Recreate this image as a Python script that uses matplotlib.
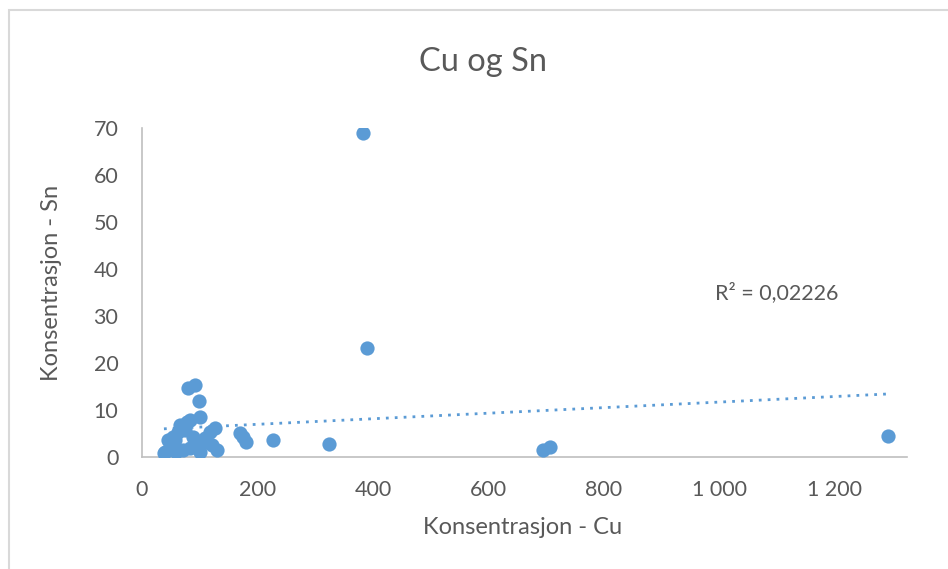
import numpy as np
import matplotlib
matplotlib.use("Agg")
import matplotlib.pyplot as plt
from matplotlib.patches import Rectangle
from matplotlib.ticker import FuncFormatter

plt.rcParams['font.family'] = ['Lato', 'DejaVu Sans']

# Cu / Sn konsentrasjoner
cu = [38, 40, 48, 57, 62, 66, 78, 83, 71, 83, 94, 109, 118, 126, 130, 100,
      99, 80, 92, 54, 88, 113, 74, 45, 59, 100, 121,
      170, 175, 180, 227, 324, 383, 389, 694, 707, 1292]
sn = [0.8, 1.0, 2.1, 3.6, 5.3, 6.8, 7.4, 7.8, 1.4, 1.9, 2.5, 4.0, 5.3, 6.1, 1.4, 8.5,
      11.9, 14.7, 15.3, 4.2, 4.2, 3.1, 5.7, 3.6, 1.0, 1.0, 2.5,
      5.1, 4.2, 3.1, 3.6, 2.7, 68.9, 23.1, 1.4, 2.1, 4.4]
r2_label = "R² = 0,02226"

text_col = '#595959'
dot_col = '#5B9BD5'
axis_col = '#BFBFBF'

fig = plt.figure(figsize=(9.48, 5.69), dpi=100)
fig.patches.append(Rectangle((8.5 / 948, -0.1), 2, 1.1 - 10.5 / 569,
                             transform=fig.transFigure, fill=False,
                             edgecolor='#D9D9D9', linewidth=1.5))

ax = fig.add_axes([142 / 948, 112.3 / 569, 765 / 948, 328.4 / 569])
ax.scatter(cu, sn, s=105, color=dot_col, zorder=3, linewidths=0)

# lineær trendlinje
k, m = np.polyfit(cu, sn, 1)
xs = np.array([min(cu), max(cu)])
ax.plot(xs, k * xs + m, linestyle=(0, (1, 2.2)), color=dot_col, linewidth=2, zorder=2)

ax.set_xlim(0, 1325)
ax.set_ylim(0, 70)
ax.set_xticks(range(0, 1201, 200))
ax.set_yticks(range(0, 71, 10))
ax.xaxis.set_major_formatter(FuncFormatter(lambda v, p: f"{int(v):,}".replace(",", " ")))

for s in ['top', 'right']:
    ax.spines[s].set_visible(False)
for s in ['left', 'bottom']:
    ax.spines[s].set_color(axis_col)
    ax.spines[s].set_linewidth(1.2)
ax.tick_params(length=0, labelsize=15.5, colors=text_col)
ax.tick_params(axis='x', pad=17)
ax.tick_params(axis='y', pad=17)

fig.text(523 / 948, 1 - 528 / 569, "Konsentrasjon - Cu", ha='center', va='center',
         fontsize=17, color=text_col)
fig.text(52 / 948, 1 - 283 / 569, "Konsentrasjon - Sn", ha='center', va='center',
         fontsize=17, color=text_col, rotation=90)
fig.text(483 / 948, 1 - 62 / 569, "Cu og Sn", ha='center', va='center',
         fontsize=23.5, color=text_col)
fig.text(777 / 948, 1 - 293 / 569, r2_label, ha='center', va='center',
         fontsize=15.5, color=text_col)

fig.savefig("out.png", dpi=100)
